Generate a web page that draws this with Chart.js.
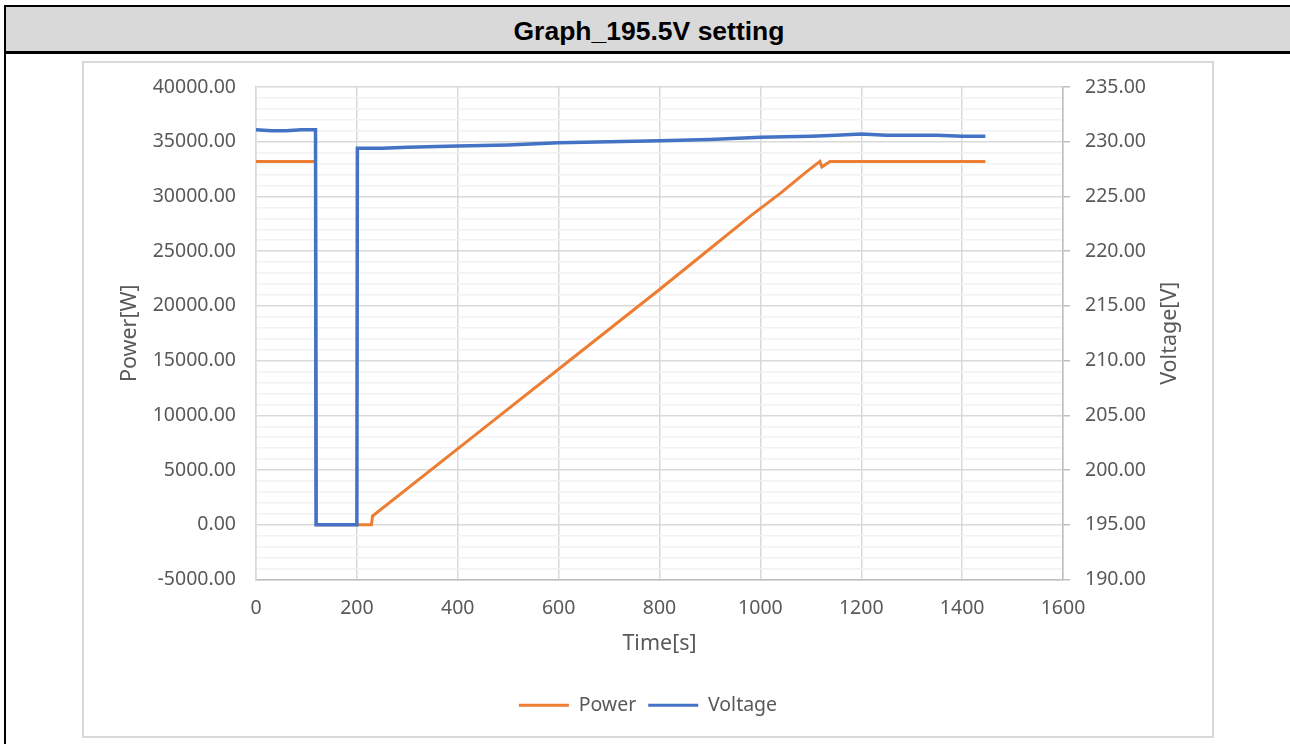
<!DOCTYPE html>
<html>
<head>
<meta charset="utf-8">
<script src="https://cdn.jsdelivr.net/npm/chart.js@4/dist/chart.umd.min.js"></script>
<style>
  html, body { margin: 0; padding: 0; background: #fff; width: 1290px; height: 744px; overflow: hidden; }
  .leftline { position: absolute; left: 4px; top: 5px; width: 2px; height: 760px; background: #000; }
  .header {
    position: absolute; left: 4px; top: 5px; width: 1300px; height: 49px;
    box-sizing: border-box; background: #d9d9d9;
    border-top: 2px solid #000; border-bottom: 3px solid #000; border-left: 2px solid #000;
    font: bold 26.5px "Liberation Sans", Arial, sans-serif; color: #000;
    text-align: center; line-height: 48px; padding-right: 12px;
  }
  .box {
    position: absolute; left: 82px; top: 61px; width: 1132px; height: 677px;
    box-sizing: border-box; border: 2px solid #d9d9d9;
  }
  #chart { position: absolute; left: 0; top: 0; }
</style>
</head>
<body>
<div class="leftline"></div>
<div class="header">Graph_195.5V setting</div>
<div class="box"><canvas id="chart" width="1128" height="673"></canvas></div>
<script>
// Datos
const timePower = [0, 118, 120, 200, 229, 231, 470, 660, 800, 905, 980, 1040, 1090, 1118, 1122, 1138, 1300, 1446];
const power     = [33200, 33200, 0, 0, 0, 800, 9500, 16400, 21500, 25400, 28200, 30300, 32200, 33200, 32700, 33200, 33200, 33200];

const timeVoltage = [0, 30, 60, 90, 118, 119, 160, 200, 201, 250, 300, 400, 500, 600, 700, 800, 900, 1000, 1100, 1150, 1200, 1250, 1300, 1350, 1400, 1446];
const voltage     = [231.1, 231.0, 231.0, 231.1, 231.1, 195.0, 195.0, 195.0, 229.4, 229.4, 229.5, 229.6, 229.7, 229.9, 230.0, 230.1, 230.2, 230.4, 230.5, 230.6, 230.7, 230.6, 230.6, 230.6, 230.5, 230.5];

const xTicks = [0, 200, 400, 600, 800, 1000, 1200, 1400, 1600];
const powerRange = [-5000, 40000];
const voltageRange = [190, 235];

const GRAY = '#595959';
Chart.defaults.font.family = "'Noto Sans', 'Open Sans', sans-serif";
Chart.defaults.color = GRAY;

// Titulo del eje derecho (leido de abajo hacia arriba, como en Excel)
const rightTitle = {
  id: 'rightTitle',
  afterDraw(chart) {
    const s = chart.scales.y1;
    const ctx = chart.ctx;
    ctx.save();
    ctx.translate(s.right - 42, (s.top + s.bottom) / 2);
    ctx.rotate(-Math.PI / 2);
    ctx.font = "21.5px 'Noto Sans', 'Open Sans', sans-serif";
    ctx.fillStyle = GRAY;
    ctx.textAlign = 'center';
    ctx.textBaseline = 'middle';
    ctx.fillText('Voltage[V]', 0, 0);
    ctx.restore();
  }
};

// anchos fijos de los ejes verticales, sin relleno extra
const fixWidth = w => s => { s.width = w; s.paddingTop = 0; s.paddingBottom = 0; };

new Chart(document.getElementById('chart'), {
  type: 'line',
  data: {
    datasets: [
      {
        label: 'Power',
        data: timePower.map((t, i) => ({ x: t, y: power[i] })),
        borderColor: '#ED7D31',
        backgroundColor: '#ED7D31',
        borderWidth: 3,
        pointRadius: 0,
        tension: 0,
        yAxisID: 'y',
        order: 2
      },
      {
        label: 'Voltage',
        data: timeVoltage.map((t, i) => ({ x: t, y: voltage[i] })),
        borderColor: '#4472C4',
        backgroundColor: '#4472C4',
        borderWidth: 3.5,
        pointRadius: 0,
        tension: 0,
        yAxisID: 'y1',
        order: 1
      }
    ]
  },
  options: {
    responsive: false,
    animation: false,
    devicePixelRatio: 1,
    layout: { padding: { top: 24, left: 0, right: 0, bottom: 11 } },
    plugins: {
      tooltip: { enabled: false },
      legend: {
        position: 'bottom',
        labels: {
          boxWidth: 50,
          boxHeight: 3,
          padding: 12,
          color: GRAY,
          font: { size: 19.5 },
          sort: (a, b) => a.datasetIndex - b.datasetIndex,
          generateLabels: chart => Chart.defaults.plugins.legend.labels.generateLabels(chart)
            .map(l => Object.assign(l, { lineWidth: 0, fillStyle: l.strokeStyle }))
        }
      }
    },
    scales: {
      x: {
        type: 'linear',
        min: xTicks[0],
        max: xTicks[xTicks.length - 1],
        afterFit: s => { s.height = 104; s.paddingLeft = 0; s.paddingRight = 0; },
        afterBuildTicks: s => { s.ticks = xTicks.map(v => ({ value: v })); },
        ticks: {
          autoSkip: false, maxRotation: 0, padding: 17,
          font: { size: 19.5 }, color: GRAY,
          callback: v => String(v)
        },
        grid: { color: '#d9d9d9', lineWidth: 1.5, drawTicks: false },
        border: { color: '#bfbfbf', width: 1.5 },
        title: { display: true, text: 'Time[s]', font: { size: 21.5 }, color: GRAY, padding: { top: 0, bottom: 27 } }
      },
      y: {
        position: 'left',
        min: powerRange[0],
        max: powerRange[1],
        afterFit: fixWidth(172),
        ticks: {
          stepSize: 1000, autoSkip: false, padding: 20,
          font: { size: 19.5 }, color: GRAY,
          callback: v => (v % 5000 === 0 ? v.toFixed(2) : '')
        },
        grid: {
          drawTicks: false,
          lineWidth: 1.5,
          color: c => (c.tick && c.tick.value % 5000 === 0 ? '#d9d9d9' : '#f2f2f2')
        },
        border: { color: '#d9d9d9', width: 1.5 },
        title: { display: true, text: 'Power[W]', font: { size: 21.5 }, color: GRAY, padding: { top: 33, bottom: 0 } }
      },
      y1: {
        position: 'right',
        min: voltageRange[0],
        max: voltageRange[1],
        afterFit: fixWidth(149),
        ticks: {
          stepSize: 5, padding: 15,
          font: { size: 19.5 }, color: GRAY,
          callback: v => v.toFixed(2)
        },
        grid: { drawOnChartArea: false, drawTicks: true, tickLength: 7, color: '#bfbfbf', lineWidth: 1.5 },
        border: { color: '#bfbfbf', width: 1.5 }
      }
    }
  },
  plugins: [rightTitle]
});
</script>
</body>
</html>
